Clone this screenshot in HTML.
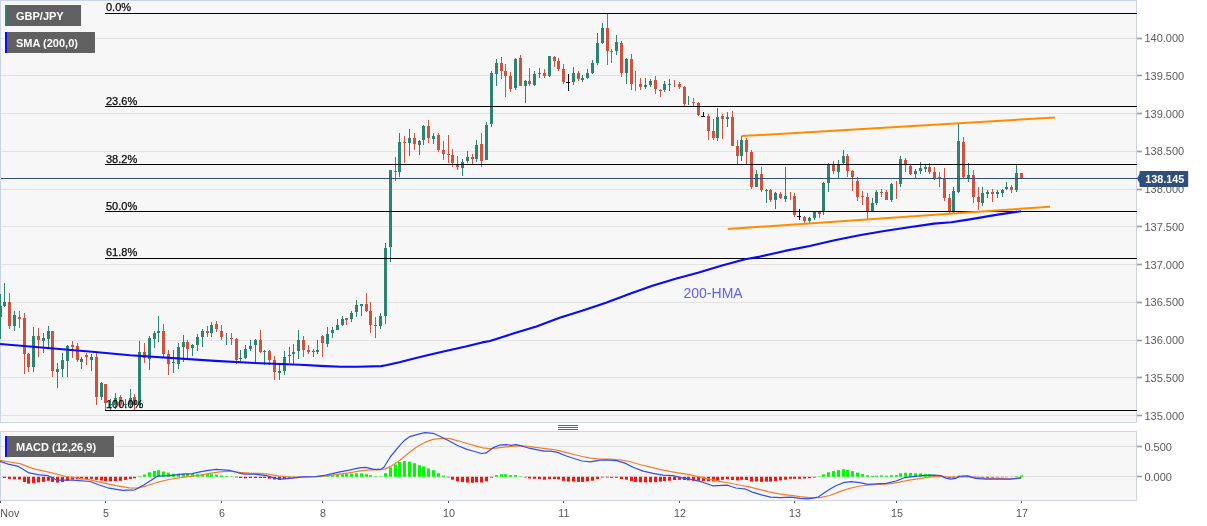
<!DOCTYPE html>
<html><head><meta charset="utf-8"><title>GBP/JPY chart</title>
<style>html,body{margin:0;padding:0;background:#fff;width:1207px;height:526px;overflow:hidden}</style>
</head><body>
<svg width="1207" height="526" viewBox="0 0 1207 526" style="display:block;position:absolute;left:0;top:0" font-family="Liberation Sans, Arial, sans-serif">
<rect x="0" y="0" width="1207" height="526" fill="#ffffff"/>
<rect x="0.5" y="0.5" width="1136" height="422" fill="#f7f7f7" stroke="#ccd3e4" stroke-width="1"/>
<rect x="0.5" y="431.5" width="1136" height="69" fill="#f7f7f7" stroke="#ccd3e4" stroke-width="1"/>
<g stroke="#e3e3e3" stroke-width="1" shape-rendering="crispEdges">
<line x1="1" y1="38.5" x2="1136" y2="38.5"/>
<line x1="1" y1="75.5" x2="1136" y2="75.5"/>
<line x1="1" y1="113.5" x2="1136" y2="113.5"/>
<line x1="1" y1="151.5" x2="1136" y2="151.5"/>
<line x1="1" y1="189.5" x2="1136" y2="189.5"/>
<line x1="1" y1="226.5" x2="1136" y2="226.5"/>
<line x1="1" y1="264.5" x2="1136" y2="264.5"/>
<line x1="1" y1="302.5" x2="1136" y2="302.5"/>
<line x1="1" y1="340.5" x2="1136" y2="340.5"/>
<line x1="1" y1="377.5" x2="1136" y2="377.5"/>
<line x1="1" y1="415.5" x2="1136" y2="415.5"/>
<line x1="1" y1="446.5" x2="1136" y2="446.5"/>
<line x1="1" y1="476.5" x2="1136" y2="476.5"/>
</g>
<g stroke="#9c9c9c" stroke-width="1.7">
<line x1="1137" y1="38.5" x2="1142" y2="38.5"/>
<line x1="1137" y1="75.5" x2="1142" y2="75.5"/>
<line x1="1137" y1="113.5" x2="1142" y2="113.5"/>
<line x1="1137" y1="151.5" x2="1142" y2="151.5"/>
<line x1="1137" y1="189.5" x2="1142" y2="189.5"/>
<line x1="1137" y1="226.5" x2="1142" y2="226.5"/>
<line x1="1137" y1="264.5" x2="1142" y2="264.5"/>
<line x1="1137" y1="302.5" x2="1142" y2="302.5"/>
<line x1="1137" y1="340.5" x2="1142" y2="340.5"/>
<line x1="1137" y1="377.5" x2="1142" y2="377.5"/>
<line x1="1137" y1="415.5" x2="1142" y2="415.5"/>
<line x1="1137" y1="446.5" x2="1142" y2="446.5"/>
<line x1="1137" y1="476.5" x2="1142" y2="476.5"/>
</g>
<g fill="#5a5a5a" font-size="11px">
<text x="1144.4" y="41.9">140.000</text>
<text x="1144.4" y="79.9">139.500</text>
<text x="1144.4" y="117.9">139.000</text>
<text x="1144.4" y="154.9">138.500</text>
<text x="1144.4" y="192.9">138.000</text>
<text x="1144.4" y="230.9">137.500</text>
<text x="1144.4" y="268.9">137.000</text>
<text x="1144.4" y="305.9">136.500</text>
<text x="1144.4" y="343.9">136.000</text>
<text x="1144.4" y="381.9">135.500</text>
<text x="1144.4" y="419.9">135.000</text>
<text x="1144.4" y="450.9">0.500</text>
<text x="1144.4" y="480.9">0.000</text>
</g>
<g stroke="#555555" stroke-width="1" shape-rendering="crispEdges">
<line x1="0.5" y1="501" x2="0.5" y2="503"/>
<line x1="105.5" y1="501" x2="105.5" y2="503"/>
<line x1="221.5" y1="501" x2="221.5" y2="503"/>
<line x1="322.5" y1="501" x2="322.5" y2="503"/>
<line x1="448.5" y1="501" x2="448.5" y2="503"/>
<line x1="563.5" y1="501" x2="563.5" y2="503"/>
<line x1="679.5" y1="501" x2="679.5" y2="503"/>
<line x1="794.5" y1="501" x2="794.5" y2="503"/>
<line x1="896.5" y1="501" x2="896.5" y2="503"/>
<line x1="1021.5" y1="501" x2="1021.5" y2="503"/>
</g>
<g fill="#555555" font-size="10.7px">
<text x="0.3" y="517">Nov</text>
<text x="105.9" y="517" text-anchor="middle">5</text>
<text x="221.9" y="517" text-anchor="middle">6</text>
<text x="322.9" y="517" text-anchor="middle">8</text>
<text x="448.9" y="517" text-anchor="middle">10</text>
<text x="563.9" y="517" text-anchor="middle">11</text>
<text x="679.9" y="517" text-anchor="middle">12</text>
<text x="794.9" y="517" text-anchor="middle">13</text>
<text x="896.9" y="517" text-anchor="middle">15</text>
<text x="1021.9" y="517" text-anchor="middle">17</text>
</g>
<g shape-rendering="crispEdges">
<rect x="0" y="294" width="1" height="45" fill="#2c8470"/>
<rect x="0" y="306" width="2" height="11" fill="#2c8470"/>
<rect x="4.0" y="283" width="1" height="24" fill="#2c8470"/>
<rect x="3.0" y="302" width="3" height="4" fill="#2c8470"/>
<rect x="9.0" y="293" width="1" height="36" fill="#d0513d"/>
<rect x="8.0" y="302" width="3" height="24" fill="#d0513d"/>
<rect x="14.0" y="311" width="1" height="20" fill="#2c8470"/>
<rect x="13.0" y="315" width="3" height="11" fill="#2c8470"/>
<rect x="19.0" y="311" width="1" height="17" fill="#d0513d"/>
<rect x="18.0" y="317" width="3" height="2" fill="#d0513d"/>
<rect x="24.0" y="313" width="1" height="61" fill="#d0513d"/>
<rect x="23.0" y="318" width="3" height="36" fill="#d0513d"/>
<rect x="28.0" y="353" width="1" height="19" fill="#d0513d"/>
<rect x="27.0" y="354" width="3" height="13" fill="#d0513d"/>
<rect x="33.0" y="327" width="1" height="45" fill="#2c8470"/>
<rect x="32.0" y="336" width="3" height="31" fill="#2c8470"/>
<rect x="38.0" y="328" width="1" height="29" fill="#d0513d"/>
<rect x="37.0" y="336" width="3" height="4" fill="#d0513d"/>
<rect x="43.0" y="333" width="1" height="20" fill="#2c8470"/>
<rect x="42.0" y="338" width="3" height="3" fill="#2c8470"/>
<rect x="48.0" y="326" width="1" height="21" fill="#2c8470"/>
<rect x="47.0" y="331" width="3" height="8" fill="#2c8470"/>
<rect x="52.0" y="331" width="1" height="46" fill="#d0513d"/>
<rect x="51.0" y="331" width="3" height="40" fill="#d0513d"/>
<rect x="57.0" y="363" width="1" height="25" fill="#2c8470"/>
<rect x="56.0" y="369" width="3" height="3" fill="#2c8470"/>
<rect x="62.0" y="353" width="1" height="24" fill="#2c8470"/>
<rect x="61.0" y="360" width="3" height="9" fill="#2c8470"/>
<rect x="67.0" y="345" width="1" height="32" fill="#2c8470"/>
<rect x="66.0" y="346" width="3" height="15" fill="#2c8470"/>
<rect x="72.0" y="341" width="1" height="17" fill="#d0513d"/>
<rect x="71.0" y="345" width="3" height="2" fill="#d0513d"/>
<rect x="77.0" y="343" width="1" height="19" fill="#d0513d"/>
<rect x="76.0" y="346" width="3" height="14" fill="#d0513d"/>
<rect x="81.0" y="357" width="1" height="12" fill="#2c8470"/>
<rect x="80.0" y="359" width="3" height="3" fill="#2c8470"/>
<rect x="86.0" y="353" width="1" height="12" fill="#d0513d"/>
<rect x="85.0" y="355" width="3" height="2" fill="#d0513d"/>
<rect x="91.0" y="354" width="1" height="17" fill="#2c8470"/>
<rect x="90.0" y="357" width="3" height="3" fill="#2c8470"/>
<rect x="96.0" y="353" width="1" height="52" fill="#d0513d"/>
<rect x="95.0" y="357" width="3" height="40" fill="#d0513d"/>
<rect x="101.0" y="382" width="1" height="18" fill="#2c8470"/>
<rect x="100.0" y="383" width="3" height="14" fill="#2c8470"/>
<rect x="105.0" y="384" width="1" height="26" fill="#d0513d"/>
<rect x="104.0" y="384" width="3" height="19" fill="#d0513d"/>
<rect x="110.0" y="399" width="1" height="11" fill="#2c8470"/>
<rect x="109.0" y="404" width="3" height="1" fill="#2c8470"/>
<rect x="115.0" y="393" width="1" height="16" fill="#2c8470"/>
<rect x="114.0" y="398" width="3" height="7" fill="#2c8470"/>
<rect x="120.0" y="395" width="1" height="13" fill="#d0513d"/>
<rect x="119.0" y="397" width="3" height="8" fill="#d0513d"/>
<rect x="125.0" y="399" width="1" height="9" fill="#2c8470"/>
<rect x="124.0" y="404" width="3" height="1" fill="#2c8470"/>
<rect x="130.0" y="389" width="1" height="19" fill="#2c8470"/>
<rect x="129.0" y="398" width="3" height="7" fill="#2c8470"/>
<rect x="134.0" y="394" width="1" height="16" fill="#d0513d"/>
<rect x="133.0" y="397" width="3" height="8" fill="#d0513d"/>
<rect x="139.0" y="341" width="1" height="67" fill="#2c8470"/>
<rect x="138.0" y="352" width="3" height="53" fill="#2c8470"/>
<rect x="144.0" y="343" width="1" height="20" fill="#d0513d"/>
<rect x="143.0" y="352" width="3" height="6" fill="#d0513d"/>
<rect x="149.0" y="336" width="1" height="34" fill="#2c8470"/>
<rect x="148.0" y="338" width="3" height="21" fill="#2c8470"/>
<rect x="154.0" y="331" width="1" height="17" fill="#2c8470"/>
<rect x="153.0" y="333" width="3" height="6" fill="#2c8470"/>
<rect x="158.0" y="316" width="1" height="26" fill="#2c8470"/>
<rect x="157.0" y="331" width="3" height="2" fill="#2c8470"/>
<rect x="163.0" y="324" width="1" height="33" fill="#d0513d"/>
<rect x="162.0" y="331" width="3" height="23" fill="#d0513d"/>
<rect x="168.0" y="350" width="1" height="25" fill="#d0513d"/>
<rect x="167.0" y="354" width="3" height="10" fill="#d0513d"/>
<rect x="173.0" y="350" width="1" height="23" fill="#2c8470"/>
<rect x="172.0" y="362" width="3" height="1" fill="#2c8470"/>
<rect x="178.0" y="343" width="1" height="26" fill="#2c8470"/>
<rect x="177.0" y="347" width="3" height="17" fill="#2c8470"/>
<rect x="183.0" y="335" width="1" height="27" fill="#2c8470"/>
<rect x="182.0" y="342" width="3" height="5" fill="#2c8470"/>
<rect x="187.0" y="340" width="1" height="19" fill="#d0513d"/>
<rect x="186.0" y="342" width="3" height="7" fill="#d0513d"/>
<rect x="192.0" y="344" width="1" height="12" fill="#2c8470"/>
<rect x="191.0" y="345" width="3" height="3" fill="#2c8470"/>
<rect x="197.0" y="334" width="1" height="17" fill="#2c8470"/>
<rect x="196.0" y="337" width="3" height="8" fill="#2c8470"/>
<rect x="202.0" y="329" width="1" height="18" fill="#2c8470"/>
<rect x="201.0" y="331" width="3" height="6" fill="#2c8470"/>
<rect x="207.0" y="326" width="1" height="11" fill="#d0513d"/>
<rect x="206.0" y="331" width="3" height="2" fill="#d0513d"/>
<rect x="211.0" y="322" width="1" height="15" fill="#2c8470"/>
<rect x="210.0" y="325" width="3" height="8" fill="#2c8470"/>
<rect x="216.0" y="321" width="1" height="11" fill="#d0513d"/>
<rect x="215.0" y="324" width="3" height="5" fill="#d0513d"/>
<rect x="221.0" y="325" width="1" height="15" fill="#d0513d"/>
<rect x="220.0" y="331" width="3" height="6" fill="#d0513d"/>
<rect x="226.0" y="333" width="1" height="12" fill="#2c8470"/>
<rect x="231.0" y="333" width="1" height="12" fill="#d0513d"/>
<rect x="230.0" y="338" width="3" height="1" fill="#d0513d"/>
<rect x="236.0" y="338" width="1" height="26" fill="#d0513d"/>
<rect x="235.0" y="339" width="3" height="21" fill="#d0513d"/>
<rect x="240.0" y="350" width="1" height="11" fill="#2c8470"/>
<rect x="239.0" y="358" width="3" height="1" fill="#2c8470"/>
<rect x="245.0" y="345" width="1" height="14" fill="#2c8470"/>
<rect x="244.0" y="349" width="3" height="9" fill="#2c8470"/>
<rect x="250.0" y="340" width="1" height="11" fill="#2c8470"/>
<rect x="249.0" y="346" width="3" height="3" fill="#2c8470"/>
<rect x="255.0" y="339" width="1" height="23" fill="#2c8470"/>
<rect x="254.0" y="340" width="3" height="5" fill="#2c8470"/>
<rect x="260.0" y="330" width="1" height="23" fill="#d0513d"/>
<rect x="259.0" y="340" width="3" height="12" fill="#d0513d"/>
<rect x="264.0" y="350" width="1" height="15" fill="#2c8470"/>
<rect x="263.0" y="351" width="3" height="1" fill="#2c8470"/>
<rect x="269.0" y="350" width="1" height="15" fill="#d0513d"/>
<rect x="268.0" y="351" width="3" height="9" fill="#d0513d"/>
<rect x="274.0" y="356" width="1" height="24" fill="#d0513d"/>
<rect x="273.0" y="360" width="3" height="12" fill="#d0513d"/>
<rect x="279.0" y="365" width="1" height="15" fill="#2c8470"/>
<rect x="278.0" y="371" width="3" height="2" fill="#2c8470"/>
<rect x="284.0" y="351" width="1" height="24" fill="#2c8470"/>
<rect x="283.0" y="357" width="3" height="14" fill="#2c8470"/>
<rect x="289.0" y="347" width="1" height="16" fill="#2c8470"/>
<rect x="288.0" y="355" width="3" height="1" fill="#2c8470"/>
<rect x="293.0" y="344" width="1" height="20" fill="#2c8470"/>
<rect x="292.0" y="352" width="3" height="2" fill="#2c8470"/>
<rect x="298.0" y="330" width="1" height="29" fill="#2c8470"/>
<rect x="297.0" y="340" width="3" height="11" fill="#2c8470"/>
<rect x="303.0" y="336" width="1" height="21" fill="#d0513d"/>
<rect x="302.0" y="340" width="3" height="10" fill="#d0513d"/>
<rect x="308.0" y="345" width="1" height="9" fill="#d0513d"/>
<rect x="307.0" y="350" width="3" height="2" fill="#d0513d"/>
<rect x="313.0" y="349" width="1" height="8" fill="#2c8470"/>
<rect x="312.0" y="351" width="3" height="1" fill="#2c8470"/>
<rect x="317.0" y="340" width="1" height="14" fill="#2c8470"/>
<rect x="316.0" y="350" width="3" height="2" fill="#2c8470"/>
<rect x="322.0" y="335" width="1" height="22" fill="#d0513d"/>
<rect x="321.0" y="336" width="3" height="7" fill="#d0513d"/>
<rect x="327.0" y="327" width="1" height="20" fill="#2c8470"/>
<rect x="326.0" y="334" width="3" height="10" fill="#2c8470"/>
<rect x="332.0" y="327" width="1" height="11" fill="#2c8470"/>
<rect x="331.0" y="330" width="3" height="3" fill="#2c8470"/>
<rect x="337.0" y="319" width="1" height="11" fill="#2c8470"/>
<rect x="336.0" y="325" width="3" height="5" fill="#2c8470"/>
<rect x="342.0" y="316" width="1" height="10" fill="#2c8470"/>
<rect x="341.0" y="319" width="3" height="6" fill="#2c8470"/>
<rect x="346.0" y="318" width="1" height="7" fill="#d0513d"/>
<rect x="345.0" y="318" width="3" height="2" fill="#d0513d"/>
<rect x="351.0" y="311" width="1" height="11" fill="#2c8470"/>
<rect x="350.0" y="313" width="3" height="6" fill="#2c8470"/>
<rect x="356.0" y="300" width="1" height="17" fill="#2c8470"/>
<rect x="355.0" y="305" width="3" height="7" fill="#2c8470"/>
<rect x="361.0" y="304" width="1" height="12" fill="#2c8470"/>
<rect x="360.0" y="304" width="3" height="2" fill="#2c8470"/>
<rect x="366.0" y="293" width="1" height="19" fill="#d0513d"/>
<rect x="365.0" y="304" width="3" height="7" fill="#d0513d"/>
<rect x="370.0" y="302" width="1" height="31" fill="#d0513d"/>
<rect x="369.0" y="311" width="3" height="14" fill="#d0513d"/>
<rect x="375.0" y="317" width="1" height="21" fill="#d0513d"/>
<rect x="374.0" y="325" width="3" height="1" fill="#d0513d"/>
<rect x="380.0" y="313" width="1" height="16" fill="#2c8470"/>
<rect x="379.0" y="316" width="3" height="10" fill="#2c8470"/>
<rect x="385.0" y="243" width="1" height="81" fill="#2c8470"/>
<rect x="384.0" y="248" width="3" height="68" fill="#2c8470"/>
<rect x="390.0" y="170" width="1" height="92" fill="#2c8470"/>
<rect x="389.0" y="170" width="3" height="77" fill="#2c8470"/>
<rect x="395.0" y="157" width="1" height="24" fill="#d0513d"/>
<rect x="394.0" y="171" width="3" height="1" fill="#d0513d"/>
<rect x="399.0" y="133" width="1" height="44" fill="#2c8470"/>
<rect x="398.0" y="142" width="3" height="30" fill="#2c8470"/>
<rect x="404.0" y="136" width="1" height="27" fill="#d0513d"/>
<rect x="403.0" y="142" width="3" height="1" fill="#d0513d"/>
<rect x="409.0" y="129" width="1" height="27" fill="#2c8470"/>
<rect x="408.0" y="138" width="3" height="5" fill="#2c8470"/>
<rect x="414.0" y="133" width="1" height="17" fill="#d0513d"/>
<rect x="413.0" y="138" width="3" height="6" fill="#d0513d"/>
<rect x="419.0" y="140" width="1" height="15" fill="#2c8470"/>
<rect x="418.0" y="141" width="3" height="4" fill="#2c8470"/>
<rect x="423.0" y="125" width="1" height="20" fill="#2c8470"/>
<rect x="422.0" y="126" width="3" height="14" fill="#2c8470"/>
<rect x="428.0" y="120" width="1" height="23" fill="#d0513d"/>
<rect x="427.0" y="126" width="3" height="12" fill="#d0513d"/>
<rect x="433.0" y="133" width="1" height="11" fill="#2c8470"/>
<rect x="432.0" y="136" width="3" height="3" fill="#2c8470"/>
<rect x="438.0" y="133" width="1" height="19" fill="#d0513d"/>
<rect x="437.0" y="135" width="3" height="15" fill="#d0513d"/>
<rect x="443.0" y="141" width="1" height="19" fill="#d0513d"/>
<rect x="442.0" y="150" width="3" height="4" fill="#d0513d"/>
<rect x="448.0" y="135" width="1" height="28" fill="#d0513d"/>
<rect x="447.0" y="154" width="3" height="1" fill="#d0513d"/>
<rect x="452.0" y="149" width="1" height="18" fill="#d0513d"/>
<rect x="451.0" y="155" width="3" height="8" fill="#d0513d"/>
<rect x="457.0" y="156" width="1" height="14" fill="#d0513d"/>
<rect x="456.0" y="164" width="3" height="3" fill="#d0513d"/>
<rect x="462.0" y="159" width="1" height="17" fill="#2c8470"/>
<rect x="461.0" y="162" width="3" height="6" fill="#2c8470"/>
<rect x="467.0" y="151" width="1" height="12" fill="#2c8470"/>
<rect x="466.0" y="157" width="3" height="4" fill="#2c8470"/>
<rect x="472.0" y="154" width="1" height="10" fill="#d0513d"/>
<rect x="471.0" y="157" width="3" height="2" fill="#d0513d"/>
<rect x="476.0" y="140" width="1" height="22" fill="#2c8470"/>
<rect x="475.0" y="145" width="3" height="14" fill="#2c8470"/>
<rect x="481.0" y="133" width="1" height="34" fill="#d0513d"/>
<rect x="480.0" y="144" width="3" height="17" fill="#d0513d"/>
<rect x="486.0" y="122" width="1" height="38" fill="#2c8470"/>
<rect x="485.0" y="125" width="3" height="35" fill="#2c8470"/>
<rect x="491.0" y="71" width="1" height="56" fill="#2c8470"/>
<rect x="490.0" y="73" width="3" height="51" fill="#2c8470"/>
<rect x="496.0" y="59" width="1" height="27" fill="#2c8470"/>
<rect x="495.0" y="63" width="3" height="11" fill="#2c8470"/>
<rect x="501.0" y="57" width="1" height="22" fill="#d0513d"/>
<rect x="500.0" y="63" width="3" height="8" fill="#d0513d"/>
<rect x="505.0" y="64" width="1" height="33" fill="#d0513d"/>
<rect x="504.0" y="71" width="3" height="5" fill="#d0513d"/>
<rect x="510.0" y="72" width="1" height="20" fill="#d0513d"/>
<rect x="509.0" y="76" width="3" height="13" fill="#d0513d"/>
<rect x="515.0" y="58" width="1" height="32" fill="#2c8470"/>
<rect x="514.0" y="59" width="3" height="29" fill="#2c8470"/>
<rect x="520.0" y="55" width="1" height="31" fill="#d0513d"/>
<rect x="519.0" y="58" width="3" height="28" fill="#d0513d"/>
<rect x="525.0" y="80" width="1" height="23" fill="#2c8470"/>
<rect x="524.0" y="81" width="3" height="5" fill="#2c8470"/>
<rect x="529.0" y="68" width="1" height="18" fill="#d0513d"/>
<rect x="528.0" y="81" width="3" height="3" fill="#d0513d"/>
<rect x="534.0" y="71" width="1" height="15" fill="#2c8470"/>
<rect x="533.0" y="74" width="3" height="11" fill="#2c8470"/>
<rect x="539.0" y="68" width="1" height="10" fill="#2c8470"/>
<rect x="538.0" y="73" width="3" height="1" fill="#2c8470"/>
<rect x="544.0" y="69" width="1" height="9" fill="#d0513d"/>
<rect x="543.0" y="73" width="3" height="3" fill="#d0513d"/>
<rect x="549.0" y="56" width="1" height="21" fill="#2c8470"/>
<rect x="548.0" y="56" width="3" height="20" fill="#2c8470"/>
<rect x="554.0" y="56" width="1" height="11" fill="#d0513d"/>
<rect x="553.0" y="57" width="3" height="4" fill="#d0513d"/>
<rect x="558.0" y="58" width="1" height="13" fill="#d0513d"/>
<rect x="557.0" y="61" width="3" height="8" fill="#d0513d"/>
<rect x="563.0" y="64" width="1" height="20" fill="#d0513d"/>
<rect x="562.0" y="69" width="3" height="13" fill="#d0513d"/>
<rect x="568.0" y="74" width="1" height="17" fill="#111111"/>
<rect x="566.0" y="82" width="4" height="1" fill="#111111"/>
<rect x="573.0" y="67" width="1" height="18" fill="#2c8470"/>
<rect x="572.0" y="73" width="3" height="9" fill="#2c8470"/>
<rect x="578.0" y="71" width="1" height="10" fill="#d0513d"/>
<rect x="577.0" y="73" width="3" height="6" fill="#d0513d"/>
<rect x="582.0" y="75" width="1" height="7" fill="#2c8470"/>
<rect x="581.0" y="78" width="3" height="2" fill="#2c8470"/>
<rect x="587.0" y="69" width="1" height="10" fill="#2c8470"/>
<rect x="586.0" y="73" width="3" height="5" fill="#2c8470"/>
<rect x="592.0" y="60" width="1" height="14" fill="#2c8470"/>
<rect x="591.0" y="63" width="3" height="10" fill="#2c8470"/>
<rect x="597.0" y="33" width="1" height="32" fill="#2c8470"/>
<rect x="596.0" y="43" width="3" height="20" fill="#2c8470"/>
<rect x="602.0" y="23" width="1" height="21" fill="#2c8470"/>
<rect x="601.0" y="28" width="3" height="15" fill="#2c8470"/>
<rect x="607.0" y="14" width="1" height="51" fill="#d0513d"/>
<rect x="606.0" y="28" width="3" height="23" fill="#d0513d"/>
<rect x="611.0" y="49" width="1" height="14" fill="#d0513d"/>
<rect x="610.0" y="51" width="3" height="1" fill="#d0513d"/>
<rect x="616.0" y="35" width="1" height="20" fill="#2c8470"/>
<rect x="615.0" y="42" width="3" height="9" fill="#2c8470"/>
<rect x="621.0" y="41" width="1" height="36" fill="#d0513d"/>
<rect x="620.0" y="43" width="3" height="30" fill="#d0513d"/>
<rect x="626.0" y="58" width="1" height="26" fill="#2c8470"/>
<rect x="625.0" y="59" width="3" height="14" fill="#2c8470"/>
<rect x="631.0" y="54" width="1" height="36" fill="#d0513d"/>
<rect x="630.0" y="59" width="3" height="25" fill="#d0513d"/>
<rect x="635.0" y="71" width="1" height="20" fill="#d0513d"/>
<rect x="640.0" y="78" width="1" height="12" fill="#d0513d"/>
<rect x="639.0" y="84" width="3" height="3" fill="#d0513d"/>
<rect x="645.0" y="78" width="1" height="11" fill="#2c8470"/>
<rect x="644.0" y="85" width="3" height="2" fill="#2c8470"/>
<rect x="650.0" y="79" width="1" height="8" fill="#2c8470"/>
<rect x="649.0" y="81" width="3" height="4" fill="#2c8470"/>
<rect x="655.0" y="76" width="1" height="18" fill="#d0513d"/>
<rect x="654.0" y="80" width="3" height="9" fill="#d0513d"/>
<rect x="660.0" y="89" width="1" height="8" fill="#d0513d"/>
<rect x="659.0" y="90" width="3" height="1" fill="#d0513d"/>
<rect x="664.0" y="81" width="1" height="11" fill="#2c8470"/>
<rect x="663.0" y="84" width="3" height="6" fill="#2c8470"/>
<rect x="669.0" y="79" width="1" height="12" fill="#2c8470"/>
<rect x="668.0" y="84" width="3" height="1" fill="#2c8470"/>
<rect x="674.0" y="80" width="1" height="7" fill="#d0513d"/>
<rect x="679.0" y="82" width="1" height="7" fill="#d0513d"/>
<rect x="678.0" y="84" width="3" height="3" fill="#d0513d"/>
<rect x="684.0" y="86" width="1" height="20" fill="#d0513d"/>
<rect x="683.0" y="87" width="3" height="17" fill="#d0513d"/>
<rect x="688.0" y="96" width="1" height="9" fill="#2c8470"/>
<rect x="693.0" y="98" width="1" height="9" fill="#d0513d"/>
<rect x="692.0" y="102" width="3" height="1" fill="#d0513d"/>
<rect x="698.0" y="102" width="1" height="14" fill="#d0513d"/>
<rect x="697.0" y="103" width="3" height="12" fill="#d0513d"/>
<rect x="703.0" y="112" width="1" height="5" fill="#111111"/>
<rect x="701.0" y="116" width="4" height="1" fill="#111111"/>
<rect x="708.0" y="114" width="1" height="26" fill="#d0513d"/>
<rect x="707.0" y="116" width="3" height="15" fill="#d0513d"/>
<rect x="713.0" y="119" width="1" height="21" fill="#d0513d"/>
<rect x="712.0" y="131" width="3" height="7" fill="#d0513d"/>
<rect x="717.0" y="108" width="1" height="33" fill="#2c8470"/>
<rect x="716.0" y="117" width="3" height="21" fill="#2c8470"/>
<rect x="722.0" y="114" width="1" height="25" fill="#d0513d"/>
<rect x="721.0" y="116" width="3" height="3" fill="#d0513d"/>
<rect x="727.0" y="112" width="1" height="15" fill="#2c8470"/>
<rect x="726.0" y="117" width="3" height="2" fill="#2c8470"/>
<rect x="732.0" y="111" width="1" height="35" fill="#d0513d"/>
<rect x="731.0" y="117" width="3" height="29" fill="#d0513d"/>
<rect x="737.0" y="140" width="1" height="24" fill="#d0513d"/>
<rect x="736.0" y="146" width="3" height="10" fill="#d0513d"/>
<rect x="741.0" y="136" width="1" height="25" fill="#2c8470"/>
<rect x="740.0" y="140" width="3" height="16" fill="#2c8470"/>
<rect x="746.0" y="138" width="1" height="26" fill="#d0513d"/>
<rect x="745.0" y="140" width="3" height="12" fill="#d0513d"/>
<rect x="751.0" y="150" width="1" height="39" fill="#d0513d"/>
<rect x="750.0" y="152" width="3" height="35" fill="#d0513d"/>
<rect x="756.0" y="170" width="1" height="17" fill="#2c8470"/>
<rect x="755.0" y="174" width="3" height="13" fill="#2c8470"/>
<rect x="761.0" y="167" width="1" height="25" fill="#d0513d"/>
<rect x="760.0" y="174" width="3" height="16" fill="#d0513d"/>
<rect x="766.0" y="189" width="1" height="14" fill="#2c8470"/>
<rect x="765.0" y="190" width="3" height="1" fill="#2c8470"/>
<rect x="770.0" y="189" width="1" height="13" fill="#d0513d"/>
<rect x="769.0" y="190" width="3" height="10" fill="#d0513d"/>
<rect x="775.0" y="192" width="1" height="17" fill="#2c8470"/>
<rect x="774.0" y="193" width="3" height="7" fill="#2c8470"/>
<rect x="780.0" y="192" width="1" height="7" fill="#d0513d"/>
<rect x="779.0" y="194" width="3" height="4" fill="#d0513d"/>
<rect x="785.0" y="167" width="1" height="35" fill="#2c8470"/>
<rect x="784.0" y="196" width="3" height="3" fill="#2c8470"/>
<rect x="790.0" y="192" width="1" height="8" fill="#d0513d"/>
<rect x="794.0" y="193" width="1" height="24" fill="#d0513d"/>
<rect x="793.0" y="196" width="3" height="19" fill="#d0513d"/>
<rect x="799.0" y="209" width="1" height="11" fill="#111111"/>
<rect x="797.0" y="216" width="4" height="1" fill="#111111"/>
<rect x="804.0" y="216" width="1" height="7" fill="#d0513d"/>
<rect x="803.0" y="217" width="3" height="4" fill="#d0513d"/>
<rect x="809.0" y="217" width="1" height="6" fill="#2c8470"/>
<rect x="808.0" y="218" width="3" height="3" fill="#2c8470"/>
<rect x="814.0" y="211" width="1" height="9" fill="#2c8470"/>
<rect x="813.0" y="212" width="3" height="6" fill="#2c8470"/>
<rect x="819.0" y="211" width="1" height="7" fill="#d0513d"/>
<rect x="818.0" y="212" width="3" height="2" fill="#d0513d"/>
<rect x="823.0" y="182" width="1" height="33" fill="#2c8470"/>
<rect x="822.0" y="183" width="3" height="29" fill="#2c8470"/>
<rect x="828.0" y="163" width="1" height="29" fill="#2c8470"/>
<rect x="827.0" y="165" width="3" height="18" fill="#2c8470"/>
<rect x="833.0" y="161" width="1" height="13" fill="#d0513d"/>
<rect x="832.0" y="165" width="3" height="6" fill="#d0513d"/>
<rect x="838.0" y="160" width="1" height="19" fill="#2c8470"/>
<rect x="837.0" y="165" width="3" height="7" fill="#2c8470"/>
<rect x="843.0" y="150" width="1" height="15" fill="#2c8470"/>
<rect x="842.0" y="156" width="3" height="7" fill="#2c8470"/>
<rect x="847.0" y="154" width="1" height="23" fill="#d0513d"/>
<rect x="846.0" y="156" width="3" height="15" fill="#d0513d"/>
<rect x="852.0" y="170" width="1" height="21" fill="#d0513d"/>
<rect x="851.0" y="171" width="3" height="6" fill="#d0513d"/>
<rect x="857.0" y="177" width="1" height="24" fill="#d0513d"/>
<rect x="856.0" y="181" width="3" height="16" fill="#d0513d"/>
<rect x="862.0" y="191" width="1" height="14" fill="#d0513d"/>
<rect x="861.0" y="196" width="3" height="1" fill="#d0513d"/>
<rect x="867.0" y="193" width="1" height="26" fill="#d0513d"/>
<rect x="866.0" y="197" width="3" height="14" fill="#d0513d"/>
<rect x="872.0" y="198" width="1" height="14" fill="#2c8470"/>
<rect x="871.0" y="203" width="3" height="8" fill="#2c8470"/>
<rect x="876.0" y="190" width="1" height="15" fill="#2c8470"/>
<rect x="875.0" y="192" width="3" height="11" fill="#2c8470"/>
<rect x="881.0" y="189" width="1" height="8" fill="#d0513d"/>
<rect x="880.0" y="192" width="3" height="1" fill="#d0513d"/>
<rect x="886.0" y="190" width="1" height="10" fill="#d0513d"/>
<rect x="885.0" y="192" width="3" height="8" fill="#d0513d"/>
<rect x="891.0" y="183" width="1" height="19" fill="#2c8470"/>
<rect x="890.0" y="184" width="3" height="16" fill="#2c8470"/>
<rect x="896.0" y="181" width="1" height="18" fill="#d0513d"/>
<rect x="900.0" y="156" width="1" height="31" fill="#2c8470"/>
<rect x="899.0" y="159" width="3" height="25" fill="#2c8470"/>
<rect x="905.0" y="158" width="1" height="14" fill="#d0513d"/>
<rect x="904.0" y="160" width="3" height="4" fill="#d0513d"/>
<rect x="910.0" y="165" width="1" height="10" fill="#d0513d"/>
<rect x="909.0" y="166" width="3" height="8" fill="#d0513d"/>
<rect x="915.0" y="169" width="1" height="9" fill="#2c8470"/>
<rect x="914.0" y="171" width="3" height="3" fill="#2c8470"/>
<rect x="920.0" y="162" width="1" height="12" fill="#2c8470"/>
<rect x="919.0" y="168" width="3" height="3" fill="#2c8470"/>
<rect x="925.0" y="165" width="1" height="7" fill="#2c8470"/>
<rect x="924.0" y="167" width="3" height="2" fill="#2c8470"/>
<rect x="929.0" y="163" width="1" height="11" fill="#d0513d"/>
<rect x="928.0" y="167" width="3" height="5" fill="#d0513d"/>
<rect x="934.0" y="167" width="1" height="13" fill="#d0513d"/>
<rect x="933.0" y="172" width="3" height="6" fill="#d0513d"/>
<rect x="939.0" y="172" width="1" height="15" fill="#d0513d"/>
<rect x="938.0" y="177" width="3" height="1" fill="#d0513d"/>
<rect x="944.0" y="168" width="1" height="33" fill="#d0513d"/>
<rect x="943.0" y="178" width="3" height="20" fill="#d0513d"/>
<rect x="949.0" y="194" width="1" height="19" fill="#d0513d"/>
<rect x="948.0" y="198" width="3" height="13" fill="#d0513d"/>
<rect x="953.0" y="187" width="1" height="26" fill="#2c8470"/>
<rect x="952.0" y="191" width="3" height="21" fill="#2c8470"/>
<rect x="958.0" y="124" width="1" height="69" fill="#2c8470"/>
<rect x="957.0" y="141" width="3" height="51" fill="#2c8470"/>
<rect x="963.0" y="137" width="1" height="41" fill="#d0513d"/>
<rect x="962.0" y="142" width="3" height="35" fill="#d0513d"/>
<rect x="968.0" y="163" width="1" height="19" fill="#2c8470"/>
<rect x="967.0" y="175" width="3" height="3" fill="#2c8470"/>
<rect x="973.0" y="170" width="1" height="33" fill="#d0513d"/>
<rect x="972.0" y="175" width="3" height="22" fill="#d0513d"/>
<rect x="978.0" y="187" width="1" height="23" fill="#d0513d"/>
<rect x="977.0" y="197" width="3" height="5" fill="#d0513d"/>
<rect x="982.0" y="187" width="1" height="19" fill="#2c8470"/>
<rect x="981.0" y="193" width="3" height="10" fill="#2c8470"/>
<rect x="987.0" y="190" width="1" height="8" fill="#2c8470"/>
<rect x="986.0" y="192" width="3" height="2" fill="#2c8470"/>
<rect x="992.0" y="189" width="1" height="13" fill="#d0513d"/>
<rect x="991.0" y="192" width="3" height="2" fill="#d0513d"/>
<rect x="997.0" y="190" width="1" height="8" fill="#2c8470"/>
<rect x="996.0" y="192" width="3" height="2" fill="#2c8470"/>
<rect x="1002.0" y="189" width="1" height="8" fill="#2c8470"/>
<rect x="1001.0" y="190" width="3" height="3" fill="#2c8470"/>
<rect x="1006.0" y="182" width="1" height="8" fill="#2c8470"/>
<rect x="1005.0" y="187" width="3" height="2" fill="#2c8470"/>
<rect x="1011.0" y="185" width="1" height="8" fill="#d0513d"/>
<rect x="1010.0" y="187" width="3" height="3" fill="#d0513d"/>
<rect x="1016.0" y="165" width="1" height="27" fill="#2c8470"/>
<rect x="1015.0" y="173" width="3" height="17" fill="#2c8470"/>
<rect x="1021.0" y="173" width="1" height="5" fill="#d0513d"/>
<rect x="1020.0" y="173" width="3" height="5" fill="#d0513d"/>
</g>
<g stroke="#000000" stroke-width="1.3" shape-rendering="crispEdges">
<line x1="105" y1="13.5" x2="1137" y2="13.5"/>
<line x1="105" y1="106.5" x2="1137" y2="106.5"/>
<line x1="105" y1="164.5" x2="1137" y2="164.5"/>
<line x1="105" y1="211.5" x2="1137" y2="211.5"/>
<line x1="105" y1="258.5" x2="1137" y2="258.5"/>
<line x1="105" y1="410.5" x2="1137" y2="410.5"/>
</g>
<g fill="#0a0a0a" stroke="#0a0a0a" stroke-width="0.25" font-size="11px">
<text x="106" y="11">0.0%</text>
<text x="106" y="105">23.6%</text>
<text x="106" y="163">38.2%</text>
<text x="106" y="210">50.0%</text>
<text x="106" y="256">61.8%</text>
<text x="106" y="408">100.0%</text>
</g>
<line x1="1" y1="178.5" x2="1137" y2="178.5" stroke="#2e4e7b" stroke-width="1" shape-rendering="crispEdges"/>
<line x1="741.5" y1="136.1" x2="1055" y2="117.5" stroke="#ff8c00" stroke-width="2" stroke-linecap="butt"/>
<line x1="727.8" y1="229" x2="1050" y2="206.7" stroke="#ff8c00" stroke-width="2" stroke-linecap="butt"/>
<polyline fill="none" stroke="#0a0af5" stroke-width="2.1" stroke-linejoin="round" points="0,344 95,352 130,355.3 215,360.9 250,362.8 300,364.7 325,366.1 341,366.7 358,366.7 381,366.1 386,365.2 399.4,362.3 416,358.1 432.6,354 449,350.2 465.7,346.5 482.3,342.4 490,341 513.2,333.6 536.4,326.6 559.6,317.8 582.8,310.4 606,302.7 629.2,294.1 652.4,285.8 675.6,278.8 698.8,272.6 722,265.6 745.2,259.3 760,256.6 784.9,250.9 809.7,246 834.6,240.2 859.4,235.3 884.3,231 909.1,227.3 934,223.6 951.4,222.3 971.3,219.1 996.1,214.9 1021,211.2"/>
<text x="683.5" y="298" font-size="14px" fill="#5f5ff0">200-HMA</text>
<g>
<rect x="3.0" y="476.80" width="3" height="1.20" fill="#ff1010"/>
<rect x="8.0" y="476.80" width="3" height="2.10" fill="#ff1010"/>
<rect x="13.0" y="476.80" width="3" height="2.50" fill="#ff1010"/>
<rect x="18.0" y="476.80" width="3" height="2.70" fill="#ff1010"/>
<rect x="23.0" y="476.80" width="3" height="5.20" fill="#ff1010"/>
<rect x="27.0" y="476.80" width="3" height="6.80" fill="#ff1010"/>
<rect x="32.0" y="476.80" width="3" height="6.20" fill="#ff1010"/>
<rect x="37.0" y="476.80" width="3" height="5.60" fill="#ff1010"/>
<rect x="42.0" y="476.80" width="3" height="5.00" fill="#ff1010"/>
<rect x="47.0" y="476.80" width="3" height="4.00" fill="#ff1010"/>
<rect x="51.0" y="476.80" width="3" height="5.20" fill="#ff1010"/>
<rect x="56.0" y="476.80" width="3" height="5.80" fill="#ff1010"/>
<rect x="61.0" y="476.80" width="3" height="5.20" fill="#ff1010"/>
<rect x="66.0" y="476.80" width="3" height="4.00" fill="#ff1010"/>
<rect x="71.0" y="476.80" width="3" height="2.70" fill="#ff1010"/>
<rect x="76.0" y="476.80" width="3" height="2.50" fill="#ff1010"/>
<rect x="80.0" y="476.80" width="3" height="2.50" fill="#ff1010"/>
<rect x="85.0" y="476.80" width="3" height="2.40" fill="#ff1010"/>
<rect x="90.0" y="476.80" width="3" height="2.10" fill="#ff1010"/>
<rect x="95.0" y="476.80" width="3" height="3.10" fill="#ff1010"/>
<rect x="100.0" y="476.80" width="3" height="3.70" fill="#ff1010"/>
<rect x="104.0" y="476.80" width="3" height="4.30" fill="#ff1010"/>
<rect x="109.0" y="476.80" width="3" height="4.60" fill="#ff1010"/>
<rect x="114.0" y="476.80" width="3" height="4.30" fill="#ff1010"/>
<rect x="119.0" y="476.80" width="3" height="4.00" fill="#ff1010"/>
<rect x="124.0" y="476.80" width="3" height="3.10" fill="#ff1010"/>
<rect x="129.0" y="476.80" width="3" height="2.10" fill="#ff1010"/>
<rect x="133.0" y="476.80" width="3" height="1.50" fill="#ff1010"/>
<rect x="138.0" y="476.20" width="3" height="0.60" fill="#04f804"/>
<rect x="143.0" y="474.60" width="3" height="2.20" fill="#04f804"/>
<rect x="148.0" y="472.30" width="3" height="4.50" fill="#04f804"/>
<rect x="153.0" y="470.80" width="3" height="6.00" fill="#04f804"/>
<rect x="157.0" y="470.20" width="3" height="6.60" fill="#04f804"/>
<rect x="162.0" y="471.50" width="3" height="5.30" fill="#04f804"/>
<rect x="167.0" y="472.70" width="3" height="4.10" fill="#04f804"/>
<rect x="172.0" y="473.70" width="3" height="3.10" fill="#04f804"/>
<rect x="177.0" y="473.70" width="3" height="3.10" fill="#04f804"/>
<rect x="182.0" y="473.70" width="3" height="3.10" fill="#04f804"/>
<rect x="186.0" y="473.90" width="3" height="2.90" fill="#04f804"/>
<rect x="191.0" y="473.90" width="3" height="2.90" fill="#04f804"/>
<rect x="196.0" y="474.20" width="3" height="2.60" fill="#04f804"/>
<rect x="201.0" y="474.20" width="3" height="2.60" fill="#04f804"/>
<rect x="206.0" y="474.20" width="3" height="2.60" fill="#04f804"/>
<rect x="210.0" y="474.20" width="3" height="2.60" fill="#04f804"/>
<rect x="215.0" y="474.60" width="3" height="2.20" fill="#04f804"/>
<rect x="220.0" y="475.40" width="3" height="1.40" fill="#04f804"/>
<rect x="225.0" y="476.00" width="3" height="0.80" fill="#04f804"/>
<rect x="230.0" y="476.40" width="3" height="0.40" fill="#04f804"/>
<rect x="235.0" y="476.80" width="3" height="0.60" fill="#ff1010"/>
<rect x="239.0" y="476.80" width="3" height="1.20" fill="#ff1010"/>
<rect x="244.0" y="476.80" width="3" height="1.50" fill="#ff1010"/>
<rect x="249.0" y="476.80" width="3" height="1.20" fill="#ff1010"/>
<rect x="254.0" y="476.80" width="3" height="1.20" fill="#ff1010"/>
<rect x="259.0" y="476.80" width="3" height="1.20" fill="#ff1010"/>
<rect x="263.0" y="476.80" width="3" height="1.20" fill="#ff1010"/>
<rect x="268.0" y="476.80" width="3" height="1.90" fill="#ff1010"/>
<rect x="273.0" y="476.80" width="3" height="2.70" fill="#ff1010"/>
<rect x="278.0" y="476.80" width="3" height="3.10" fill="#ff1010"/>
<rect x="283.0" y="476.80" width="3" height="2.20" fill="#ff1010"/>
<rect x="288.0" y="476.80" width="3" height="1.40" fill="#ff1010"/>
<rect x="292.0" y="476.80" width="3" height="0.70" fill="#ff1010"/>
<rect x="297.0" y="476.80" width="3" height="0.20" fill="#ff1010"/>
<rect x="316.0" y="476.60" width="3" height="0.20" fill="#04f804"/>
<rect x="321.0" y="476.30" width="3" height="0.50" fill="#04f804"/>
<rect x="326.0" y="475.70" width="3" height="1.10" fill="#04f804"/>
<rect x="331.0" y="475.10" width="3" height="1.70" fill="#04f804"/>
<rect x="336.0" y="474.40" width="3" height="2.40" fill="#04f804"/>
<rect x="341.0" y="474.20" width="3" height="2.60" fill="#04f804"/>
<rect x="345.0" y="473.80" width="3" height="3.00" fill="#04f804"/>
<rect x="350.0" y="473.60" width="3" height="3.20" fill="#04f804"/>
<rect x="355.0" y="473.40" width="3" height="3.40" fill="#04f804"/>
<rect x="360.0" y="473.40" width="3" height="3.40" fill="#04f804"/>
<rect x="365.0" y="474.10" width="3" height="2.70" fill="#04f804"/>
<rect x="369.0" y="475.30" width="3" height="1.50" fill="#04f804"/>
<rect x="374.0" y="476.30" width="3" height="0.50" fill="#04f804"/>
<rect x="379.0" y="476.40" width="3" height="0.40" fill="#04f804"/>
<rect x="384.0" y="473.20" width="3" height="3.60" fill="#04f804"/>
<rect x="389.0" y="467.40" width="3" height="9.40" fill="#04f804"/>
<rect x="394.0" y="464.50" width="3" height="12.30" fill="#04f804"/>
<rect x="398.0" y="462.00" width="3" height="14.80" fill="#04f804"/>
<rect x="403.0" y="461.10" width="3" height="15.70" fill="#04f804"/>
<rect x="408.0" y="461.60" width="3" height="15.20" fill="#04f804"/>
<rect x="413.0" y="463.20" width="3" height="13.60" fill="#04f804"/>
<rect x="418.0" y="465.10" width="3" height="11.70" fill="#04f804"/>
<rect x="422.0" y="466.40" width="3" height="10.40" fill="#04f804"/>
<rect x="427.0" y="468.50" width="3" height="8.30" fill="#04f804"/>
<rect x="432.0" y="470.30" width="3" height="6.50" fill="#04f804"/>
<rect x="437.0" y="473.20" width="3" height="3.60" fill="#04f804"/>
<rect x="442.0" y="475.60" width="3" height="1.20" fill="#04f804"/>
<rect x="447.0" y="476.80" width="3" height="0.60" fill="#ff1010"/>
<rect x="451.0" y="476.80" width="3" height="2.90" fill="#ff1010"/>
<rect x="456.0" y="476.80" width="3" height="4.50" fill="#ff1010"/>
<rect x="461.0" y="476.80" width="3" height="5.30" fill="#ff1010"/>
<rect x="466.0" y="476.80" width="3" height="5.70" fill="#ff1010"/>
<rect x="471.0" y="476.80" width="3" height="6.00" fill="#ff1010"/>
<rect x="475.0" y="476.80" width="3" height="5.50" fill="#ff1010"/>
<rect x="480.0" y="476.80" width="3" height="5.70" fill="#ff1010"/>
<rect x="485.0" y="476.80" width="3" height="4.50" fill="#ff1010"/>
<rect x="490.0" y="476.80" width="3" height="0.80" fill="#ff1010"/>
<rect x="495.0" y="475.10" width="3" height="1.70" fill="#04f804"/>
<rect x="500.0" y="474.20" width="3" height="2.60" fill="#04f804"/>
<rect x="504.0" y="474.20" width="3" height="2.60" fill="#04f804"/>
<rect x="509.0" y="475.10" width="3" height="1.70" fill="#04f804"/>
<rect x="514.0" y="475.10" width="3" height="1.70" fill="#04f804"/>
<rect x="519.0" y="476.30" width="3" height="0.50" fill="#04f804"/>
<rect x="524.0" y="476.80" width="3" height="0.60" fill="#ff1010"/>
<rect x="528.0" y="476.80" width="3" height="1.70" fill="#ff1010"/>
<rect x="533.0" y="476.80" width="3" height="2.00" fill="#ff1010"/>
<rect x="538.0" y="476.80" width="3" height="2.20" fill="#ff1010"/>
<rect x="543.0" y="476.80" width="3" height="2.90" fill="#ff1010"/>
<rect x="548.0" y="476.80" width="3" height="2.20" fill="#ff1010"/>
<rect x="553.0" y="476.80" width="3" height="2.20" fill="#ff1010"/>
<rect x="557.0" y="476.80" width="3" height="2.60" fill="#ff1010"/>
<rect x="562.0" y="476.80" width="3" height="4.10" fill="#ff1010"/>
<rect x="567.0" y="476.80" width="3" height="4.70" fill="#ff1010"/>
<rect x="572.0" y="476.80" width="3" height="4.70" fill="#ff1010"/>
<rect x="577.0" y="476.80" width="3" height="5.10" fill="#ff1010"/>
<rect x="581.0" y="476.80" width="3" height="5.10" fill="#ff1010"/>
<rect x="586.0" y="476.80" width="3" height="4.50" fill="#ff1010"/>
<rect x="591.0" y="476.80" width="3" height="3.90" fill="#ff1010"/>
<rect x="596.0" y="476.80" width="3" height="2.20" fill="#ff1010"/>
<rect x="601.0" y="476.80" width="3" height="0.70" fill="#ff1010"/>
<rect x="606.0" y="476.80" width="3" height="0.70" fill="#ff1010"/>
<rect x="610.0" y="476.80" width="3" height="1.00" fill="#ff1010"/>
<rect x="615.0" y="476.80" width="3" height="1.00" fill="#ff1010"/>
<rect x="620.0" y="476.80" width="3" height="2.20" fill="#ff1010"/>
<rect x="625.0" y="476.80" width="3" height="2.90" fill="#ff1010"/>
<rect x="630.0" y="476.80" width="3" height="4.20" fill="#ff1010"/>
<rect x="634.0" y="476.80" width="3" height="5.10" fill="#ff1010"/>
<rect x="639.0" y="476.80" width="3" height="5.50" fill="#ff1010"/>
<rect x="644.0" y="476.80" width="3" height="5.50" fill="#ff1010"/>
<rect x="649.0" y="476.80" width="3" height="5.50" fill="#ff1010"/>
<rect x="654.0" y="476.80" width="3" height="5.30" fill="#ff1010"/>
<rect x="659.0" y="476.80" width="3" height="4.80" fill="#ff1010"/>
<rect x="663.0" y="476.80" width="3" height="4.20" fill="#ff1010"/>
<rect x="668.0" y="476.80" width="3" height="3.90" fill="#ff1010"/>
<rect x="673.0" y="476.80" width="3" height="3.20" fill="#ff1010"/>
<rect x="678.0" y="476.80" width="3" height="3.00" fill="#ff1010"/>
<rect x="683.0" y="476.80" width="3" height="3.20" fill="#ff1010"/>
<rect x="687.0" y="476.80" width="3" height="3.60" fill="#ff1010"/>
<rect x="692.0" y="476.80" width="3" height="3.90" fill="#ff1010"/>
<rect x="697.0" y="476.80" width="3" height="3.90" fill="#ff1010"/>
<rect x="702.0" y="476.80" width="3" height="4.20" fill="#ff1010"/>
<rect x="707.0" y="476.80" width="3" height="4.50" fill="#ff1010"/>
<rect x="712.0" y="476.80" width="3" height="4.70" fill="#ff1010"/>
<rect x="716.0" y="476.80" width="3" height="3.90" fill="#ff1010"/>
<rect x="721.0" y="476.80" width="3" height="3.00" fill="#ff1010"/>
<rect x="726.0" y="476.80" width="3" height="2.40" fill="#ff1010"/>
<rect x="731.0" y="476.80" width="3" height="3.20" fill="#ff1010"/>
<rect x="736.0" y="476.80" width="3" height="3.60" fill="#ff1010"/>
<rect x="740.0" y="476.80" width="3" height="3.00" fill="#ff1010"/>
<rect x="745.0" y="476.80" width="3" height="3.20" fill="#ff1010"/>
<rect x="750.0" y="476.80" width="3" height="4.70" fill="#ff1010"/>
<rect x="755.0" y="476.80" width="3" height="4.70" fill="#ff1010"/>
<rect x="760.0" y="476.80" width="3" height="5.10" fill="#ff1010"/>
<rect x="765.0" y="476.80" width="3" height="4.80" fill="#ff1010"/>
<rect x="769.0" y="476.80" width="3" height="4.80" fill="#ff1010"/>
<rect x="774.0" y="476.80" width="3" height="4.20" fill="#ff1010"/>
<rect x="779.0" y="476.80" width="3" height="3.60" fill="#ff1010"/>
<rect x="784.0" y="476.80" width="3" height="2.90" fill="#ff1010"/>
<rect x="789.0" y="476.80" width="3" height="2.00" fill="#ff1010"/>
<rect x="793.0" y="476.80" width="3" height="2.00" fill="#ff1010"/>
<rect x="798.0" y="476.80" width="3" height="2.00" fill="#ff1010"/>
<rect x="803.0" y="476.80" width="3" height="1.70" fill="#ff1010"/>
<rect x="808.0" y="476.80" width="3" height="1.40" fill="#ff1010"/>
<rect x="813.0" y="476.80" width="3" height="0.70" fill="#ff1010"/>
<rect x="818.0" y="476.40" width="3" height="0.40" fill="#04f804"/>
<rect x="822.0" y="474.40" width="3" height="2.40" fill="#04f804"/>
<rect x="827.0" y="472.20" width="3" height="4.60" fill="#04f804"/>
<rect x="832.0" y="471.10" width="3" height="5.70" fill="#04f804"/>
<rect x="837.0" y="470.10" width="3" height="6.70" fill="#04f804"/>
<rect x="842.0" y="469.20" width="3" height="7.60" fill="#04f804"/>
<rect x="846.0" y="469.80" width="3" height="7.00" fill="#04f804"/>
<rect x="851.0" y="471.10" width="3" height="5.70" fill="#04f804"/>
<rect x="856.0" y="472.60" width="3" height="4.20" fill="#04f804"/>
<rect x="861.0" y="474.10" width="3" height="2.70" fill="#04f804"/>
<rect x="866.0" y="475.30" width="3" height="1.50" fill="#04f804"/>
<rect x="871.0" y="475.90" width="3" height="0.90" fill="#04f804"/>
<rect x="875.0" y="475.70" width="3" height="1.10" fill="#04f804"/>
<rect x="880.0" y="475.40" width="3" height="1.40" fill="#04f804"/>
<rect x="885.0" y="475.70" width="3" height="1.10" fill="#04f804"/>
<rect x="890.0" y="475.30" width="3" height="1.50" fill="#04f804"/>
<rect x="895.0" y="475.10" width="3" height="1.70" fill="#04f804"/>
<rect x="899.0" y="473.20" width="3" height="3.60" fill="#04f804"/>
<rect x="904.0" y="472.80" width="3" height="4.00" fill="#04f804"/>
<rect x="909.0" y="472.90" width="3" height="3.90" fill="#04f804"/>
<rect x="914.0" y="473.20" width="3" height="3.60" fill="#04f804"/>
<rect x="919.0" y="473.40" width="3" height="3.40" fill="#04f804"/>
<rect x="924.0" y="473.80" width="3" height="3.00" fill="#04f804"/>
<rect x="928.0" y="474.20" width="3" height="2.60" fill="#04f804"/>
<rect x="933.0" y="474.80" width="3" height="2.00" fill="#04f804"/>
<rect x="938.0" y="475.40" width="3" height="1.40" fill="#04f804"/>
<rect x="943.0" y="476.80" width="3" height="0.30" fill="#ff1010"/>
<rect x="948.0" y="476.80" width="3" height="1.40" fill="#ff1010"/>
<rect x="952.0" y="476.80" width="3" height="1.40" fill="#ff1010"/>
<rect x="957.0" y="475.70" width="3" height="1.10" fill="#04f804"/>
<rect x="962.0" y="475.70" width="3" height="1.10" fill="#04f804"/>
<rect x="967.0" y="475.70" width="3" height="1.10" fill="#04f804"/>
<rect x="972.0" y="476.80" width="3" height="0.30" fill="#ff1010"/>
<rect x="977.0" y="476.80" width="3" height="1.00" fill="#ff1010"/>
<rect x="981.0" y="476.80" width="3" height="1.00" fill="#ff1010"/>
<rect x="986.0" y="476.80" width="3" height="1.00" fill="#ff1010"/>
<rect x="991.0" y="476.80" width="3" height="0.80" fill="#ff1010"/>
<rect x="996.0" y="476.80" width="3" height="0.50" fill="#ff1010"/>
<rect x="1001.0" y="476.80" width="3" height="0.40" fill="#ff1010"/>
<rect x="1005.0" y="476.80" width="3" height="0.30" fill="#ff1010"/>
<rect x="1010.0" y="476.80" width="3" height="0.20" fill="#ff1010"/>
<rect x="1015.0" y="476.10" width="3" height="0.70" fill="#04f804"/>
<rect x="1020.0" y="475.40" width="3" height="1.40" fill="#04f804"/>
</g>
<polyline fill="none" stroke="#f0802c" stroke-width="1.2" stroke-linejoin="round" points="0.0,460.3 9.9,462.0 19.9,463.6 33.1,468.6 49.7,472.4 66.3,476.5 77.9,478.2 90.3,479.9 102.7,482.8 116.0,485.7 129.2,487.8 137.5,488.1 145.8,486.2 157.4,482.3 169.0,479.5 182.3,477.4 192.2,476.2 200.0,475.1 209.9,473.4 219.9,471.9 229.8,471.1 239.8,472.4 249.7,473.1 259.7,473.4 269.6,474.4 279.5,476.1 289.5,477.1 299.4,477.1 316.0,476.7 325.9,475.9 337.5,474.4 349.1,472.8 359.1,471.1 369.0,469.9 379.0,469.8 385.6,468.9 392.2,465.6 400.0,460.2 408.3,453.2 416.6,447.1 424.9,442.4 433.1,439.4 441.4,438.3 449.7,438.6 458.0,440.8 466.3,443.3 474.6,445.7 482.9,447.9 489.5,448.6 496.1,448.2 506.0,446.9 516.0,446.2 525.9,446.2 535.9,447.4 545.8,448.6 555.8,449.9 565.7,452.4 574.0,454.5 582.3,456.5 590.6,458.2 600.0,459.0 609.9,459.0 619.9,459.8 629.8,461.5 639.8,464.5 649.7,466.8 659.7,469.3 669.6,471.4 679.5,473.1 689.5,474.7 699.4,476.9 709.4,479.2 719.3,481.4 729.2,483.0 739.2,485.0 749.1,486.8 759.1,489.3 769.0,491.8 779.0,493.8 788.9,495.1 800.0,496.6 809.9,497.6 819.9,497.6 829.8,495.5 839.8,491.6 849.7,488.3 859.7,486.0 869.6,485.0 879.5,484.3 889.5,483.9 899.4,482.2 909.4,480.2 919.3,478.6 929.2,477.2 939.2,476.4 949.1,477.2 959.1,477.2 969.0,476.7 979.0,477.6 988.9,478.4 1000.0,478.4 1009.9,478.9 1021.2,478.4"/>
<polyline fill="none" stroke="#2f4ff0" stroke-width="1.2" stroke-linejoin="round" points="0.0,461.3 8.3,464.1 18.2,466.3 29.0,472.9 38.1,474.6 48.1,475.7 57.2,480.2 72.9,480.2 90.3,481.5 97.8,484.5 107.7,487.8 122.6,490.3 135.0,489.8 144.2,484.8 157.4,476.2 169.0,475.7 182.3,474.1 192.2,473.6 200.0,471.9 208.3,470.3 216.6,469.3 229.8,470.3 238.1,472.8 244.7,474.1 254.7,474.1 266.3,475.6 274.6,478.1 281.2,479.2 292.8,478.1 302.7,476.9 316.0,476.7 325.9,475.1 337.5,472.3 349.1,470.1 359.1,467.8 365.7,467.4 374.0,469.3 380.6,469.4 383.9,467.3 390.6,456.5 400.0,445.2 405.0,439.9 409.9,436.6 416.6,434.6 424.9,432.7 433.1,433.3 441.4,437.0 449.7,441.3 458.0,445.7 466.3,449.1 474.6,451.5 481.2,453.5 486.2,452.9 492.8,447.9 499.4,445.2 506.0,444.6 511.0,445.4 516.0,444.6 522.6,446.2 529.2,448.2 537.5,449.9 544.2,451.2 550.8,451.2 557.4,452.4 565.7,455.7 574.0,458.5 582.3,461.0 590.6,461.8 600.0,460.2 606.6,459.8 616.6,460.7 624.9,463.1 633.1,467.3 643.1,471.1 653.0,473.4 663.0,475.1 672.9,475.6 682.9,478.1 692.8,479.7 702.7,482.2 712.7,485.8 727.6,485.2 735.9,488.0 745.8,489.2 752.4,492.1 762.4,495.1 770.7,497.1 780.6,497.6 790.6,497.1 800.0,498.3 808.3,498.8 818.2,497.1 826.5,491.3 834.8,486.3 843.1,482.7 851.4,481.7 859.7,482.7 867.9,484.3 876.2,483.9 886.2,483.4 896.1,481.0 904.4,477.7 912.7,476.7 922.6,475.6 932.6,475.1 940.8,475.6 945.8,478.1 950.8,479.2 955.8,478.4 959.1,476.4 967.4,475.9 975.6,478.4 985.6,479.2 1000.0,479.2 1009.9,479.2 1018.2,478.1 1021.2,477.7"/>
<rect x="5" y="5" width="76" height="21" fill="#606060"/>
<rect x="5" y="5" width="2" height="21" fill="#2c8470"/>
<text x="16" y="19.7" font-size="11px" font-weight="bold" fill="#ffffff">GBP/JPY</text>
<rect x="5" y="32" width="90" height="21" fill="#606060"/>
<rect x="5" y="32" width="2" height="21" fill="#0a0aff"/>
<text x="16" y="46.7" font-size="11px" font-weight="bold" fill="#ffffff">SMA (200,0)</text>
<rect x="5" y="436" width="109" height="21" fill="#606060"/>
<rect x="5" y="436" width="2" height="21" fill="#0a0aff"/>
<text x="16" y="450.7" font-size="11px" font-weight="bold" fill="#ffffff">MACD (12,26,9)</text>
<g stroke="#6b6262" stroke-width="1" shape-rendering="crispEdges"><line x1="558" y1="425.5" x2="578" y2="425.5"/><line x1="558" y1="427.5" x2="578" y2="427.5"/><line x1="558" y1="429.5" x2="578" y2="429.5"/></g>
<path d="M1137,178.5 L1139.5,174 L1139.5,172 Q1139.5,171 1140.5,171 L1187.2,171 Q1188.2,171 1188.2,172 L1188.2,186 Q1188.2,187 1187.2,187 L1140.5,187 Q1139.5,187 1139.5,186 L1139.5,183 Z" fill="#2e4e7b"/>
<text x="1145.3" y="182.8" font-size="10.8px" font-weight="bold" fill="#ffffff">138.145</text>
</svg>
</body></html>
